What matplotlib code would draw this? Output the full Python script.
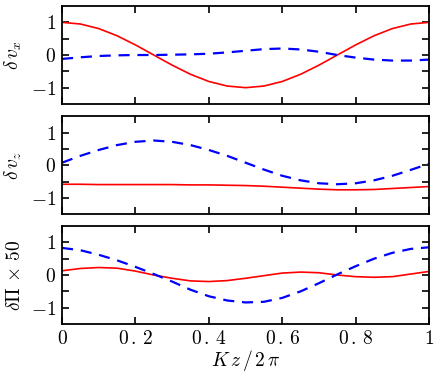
import numpy as np
import matplotlib
matplotlib.use("Agg")
import matplotlib.pyplot as plt

plt.rcParams['mathtext.fontset'] = 'cm'
plt.rcParams['font.family'] = 'serif'
plt.rcParams['font.serif'] = ['DejaVu Serif']

# Kz/2pi sample positions
z = [0.0, 0.05, 0.1, 0.15, 0.2, 0.25, 0.3, 0.35, 0.4, 0.45, 0.5,
     0.55, 0.6, 0.65, 0.7, 0.75, 0.8, 0.85, 0.9, 0.95, 1.0]

# delta v_x
vx_red = [1.0, 0.95, 0.81, 0.59, 0.31, 0.0, -0.31, -0.59, -0.81, -0.95, -1.0,
          -0.95, -0.81, -0.59, -0.31, 0.0, 0.31, 0.59, 0.81, 0.95, 1.0]
vx_blue = [-0.12, -0.07, -0.03, -0.01, 0.0, 0.0, 0.01, 0.02, 0.04, 0.08, 0.13,
           0.18, 0.2, 0.17, 0.1, 0.0, -0.08, -0.14, -0.17, -0.17, -0.14]

# delta v_z
vz_red = [-0.58, -0.58, -0.59, -0.59, -0.59, -0.59, -0.59, -0.6, -0.6, -0.61, -0.62,
          -0.64, -0.67, -0.7, -0.73, -0.75, -0.75, -0.74, -0.71, -0.68, -0.65]
vz_blue = [0.08, 0.29, 0.47, 0.62, 0.72, 0.76, 0.72, 0.62, 0.47, 0.29, 0.08,
           -0.13, -0.32, -0.46, -0.55, -0.58, -0.55, -0.46, -0.32, -0.14, 0.05]

# delta Pi x 50
pi_red = [0.13, 0.2, 0.23, 0.21, 0.12, 0.0, -0.1, -0.18, -0.2, -0.17, -0.1,
          -0.02, 0.06, 0.09, 0.07, 0.0, -0.05, -0.07, -0.05, 0.03, 0.11]
pi_blue = [0.83, 0.76, 0.62, 0.45, 0.25, 0.03, -0.2, -0.45, -0.65, -0.78, -0.84,
           -0.82, -0.7, -0.5, -0.25, 0.02, 0.27, 0.5, 0.68, 0.8, 0.85]

ylabels = [r'$\delta\, v_x$', r'$\delta\, v_z$', r'$\delta\Pi\,\times\,50$']
xticks = [0, 0.2, 0.4, 0.6, 0.8, 1]
xticklabels = [r'$0$', r'$0\,.\,2$', r'$0\,.\,4$', r'$0\,.\,6$', r'$0\,.\,8$', r'$1$']
yticks = [-1, -0.5, 0, 0.5, 1]
yticklabels = [r'$-1$', '', r'$0$', '', r'$1$']

fig = plt.figure(figsize=(4.36, 3.71), dpi=100)
bottoms = [0.7197, 0.4224, 0.1267]
series = [(vx_red, vx_blue), (vz_red, vz_blue), (pi_red, pi_blue)]

for i, (b, (red, blue)) in enumerate(zip(bottoms, series)):
    ax = fig.add_axes([0.1422, b, 0.842, 0.264])
    ax.plot(z, red, color='#ff0000', lw=1.2)
    ax.plot(z, blue, color='#0000ff', lw=1.6, dashes=(5, 3.5))
    ax.set_xlim(0, 1)
    ax.set_ylim(-1.5, 1.5)
    ax.set_yticks(yticks)
    ax.set_yticklabels(yticklabels)
    ax.set_xticks(xticks)
    if i == 2:
        ax.set_xticklabels(xticklabels)
        ax.set_xlabel(r'$K\,z\,/\,2\,\pi$', fontsize=14, labelpad=0)
    else:
        ax.set_xticklabels([])
    ax.set_ylabel(ylabels[i], fontsize=14, labelpad=5)
    ax.tick_params(direction='in', top=True, right=True, length=5, width=1.2,
                   labelsize=14, pad=4)
    for s in ax.spines.values():
        s.set_linewidth(1.3)

fig.savefig('out.png', dpi=100)
